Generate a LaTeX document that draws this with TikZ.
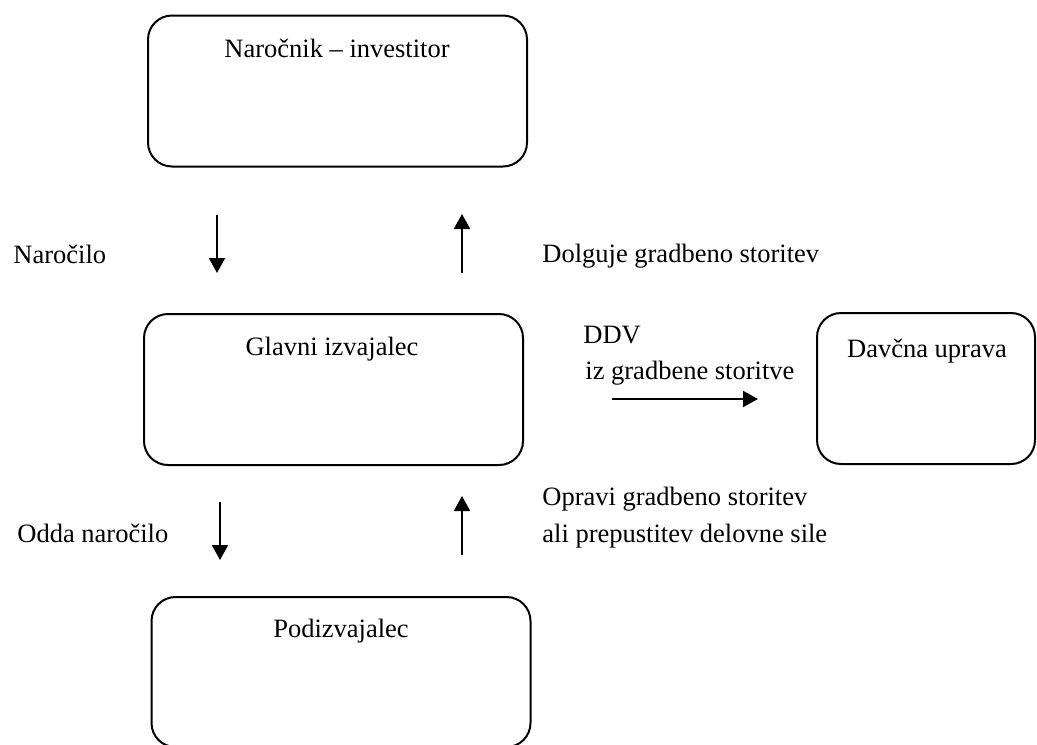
\documentclass[tikz,border=0pt]{standalone}
\usepackage{fontspec}
\setmainfont{Liberation Serif}
\usepackage{xcolor}
\usepackage{tikz}
\usetikzlibrary{
  arrows.meta,
  positioning,
  calc
}
\tikzset{
  party/.style={
    draw,
    rounded corners=12pt,
    line width=1pt,
    inner sep=0pt,
    minimum width=189.5pt,
    minimum height=75.5pt
  },
  partyname/.style={
    anchor=base,
    inner sep=0pt,
    font=\fontsize{13.25}{16}\selectfont
  },
  flowtext/.style={
    anchor=base west,
    inner sep=0pt,
    font=\fontsize{13.25}{16}\selectfont
  },
  flow/.style={
    -{Triangle[length=7.5pt,width=8pt]},
    line width=1pt
  }
}

\begin{document}
\begin{tikzpicture}[x=0.5pt,y=-0.5pt]

  \useasboundingbox (0,0) rectangle (1037,744);

  % parties
  \node[
    party
  ] (narocnik) at (337.5,91) {};
  \node[partyname] (narocnikT) at (337,57) {Naročnik – investitor};

  \node[
    party
  ] (glavni) at (333.5,389.5) {};
  \node[partyname] (glavniT) at (332,355) {Glavni izvajalec};

  \node[
    party,
    minimum width=109pt
  ] (davcna) at (926,388.5) {};
  \node[partyname] (davcnaT) at (927,357) {Davčna uprava};

  \node[
    party,
    minimum height=75pt
  ] (pod) at (341,672) {};
  \node[partyname] (podT) at (341,637) {Podizvajalec};

  % arrow ends
  \coordinate (narTop) at (217,215);
  \coordinate (narBot) at (217,273);
  \coordinate (dolBot) at (462,273);
  \coordinate (dolTop) at (462,214);
  \coordinate (oddTop) at (220,502);
  \coordinate (oddBot) at (220,560);
  \coordinate (oprBot) at (462,555);
  \coordinate (oprTop) at (462,496);
  \coordinate (ddvL) at (612,399);
  \coordinate (ddvR) at (758,399);

  \draw[flow] (narTop) -- (narBot);
  \draw[flow] (dolBot) -- (dolTop);
  \draw[flow] (oddTop) -- (oddBot);
  \draw[flow] (oprBot) -- (oprTop);
  \draw[flow] (ddvL) -- (ddvR);

  % labels
  \node[flowtext] (narocilo) at (13,263) {Naročilo};
  \node[flowtext] (dolguje) at (542,262) {Dolguje gradbeno storitev};
  \node[flowtext] (ddv) at (583,343) {DDV};
  \node[flowtext] (ddvIz) at (585,379) {iz gradbene storitve};
  \node[flowtext] (odda) at (17,542) {Odda naročilo};
  \node[flowtext] (opravi) at (542,505) {Opravi gradbeno storitev};
  \node[flowtext] (prepust) at (542,542) {ali prepustitev delovne sile};

\end{tikzpicture}
\end{document}
